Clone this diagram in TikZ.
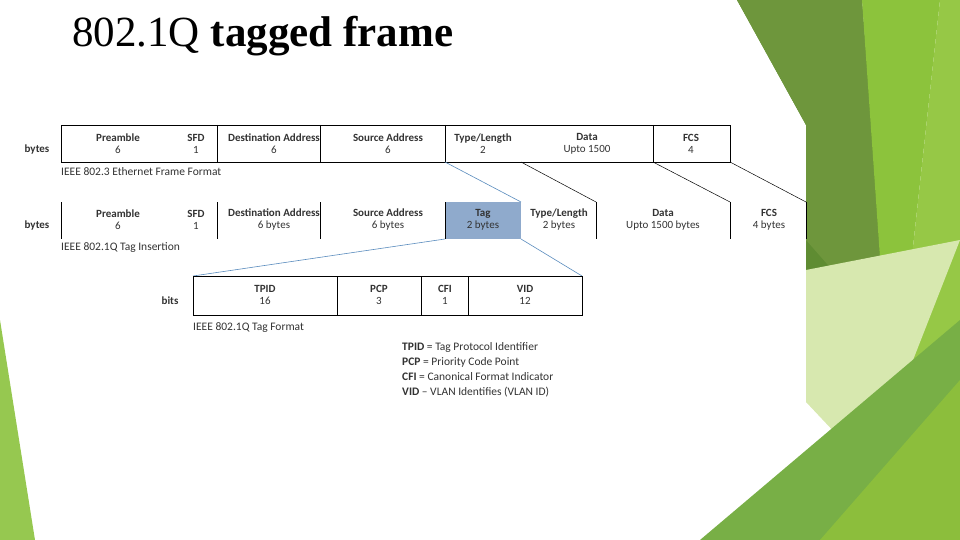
\documentclass[tikz,border=0pt]{standalone}
\usepackage{fontspec}
\setmainfont{Carlito}
\newfontfamily\titlefont{Liberation Serif}
\definecolor{lnblue}{RGB}{90,140,190}
\begin{document}
\begin{tikzpicture}[x=1pt,y=-1pt,
  lbl/.style={font=\fontsize{11}{12}\selectfont,text=black!80,align=center,inner sep=0},
  captxt/.style={font=\fontsize{11.5}{13}\selectfont,text=black!80,anchor=west,inner sep=0},
  frame/.style={draw=black,line width=0.7pt},
  bl/.style={draw=lnblue,line width=0.6pt}]
\useasboundingbox (0,0) rectangle (960,540);
% green decorations
\fill[color={rgb,255:red,95;green,140;blue,50}] (737,0)--(862,0)--(888,330)--(860,400)--(806,402)--(806,125);
\fill[color={rgb,255:red,110;green,150;blue,60}] (737,0)--(862,0)--(885,330)--(806,240)--(806,125);
\fill[color={rgb,255:red,140;green,195;blue,60}] (862,0)--(940,0)--(905,320)--(885,330);
\fill[color={rgb,255:red,150;green,200;blue,70}] (940,0)--(960,0)--(960,540)--(930,540)--(905,320);
\fill[color={rgb,255:red,215;green,232;blue,175}] (806,270)--(960,240)--(870,470)--(806,402);
\fill[color={rgb,255:red,120;green,175;blue,70}] (700,540)--(960,320)--(960,540);
\fill[color={rgb,255:red,140;green,190;blue,60}] (820,540)--(960,380)--(960,540);
\fill[color={rgb,255:red,150;green,200;blue,80}] (0,320)--(35,540)--(0,540);
\fill[white] (15,125) rectangle (806,402);
% title
\node[anchor=base west,inner sep=0,font=\titlefont\fontsize{43}{46}\selectfont] (title) at (72,47) {802.1Q \textbf{tagged frame}};
% row 1
\draw[frame] (61,125) rectangle (730,162);
\foreach \x in {217,320,445,653} \draw[frame] (\x,125)--(\x,162);
\node[lbl] (r1a) at (118,144) {\textbf{Preamble}\\6};
\node[lbl] (r1b) at (196,144) {\textbf{SFD}\\1};
\node[lbl] (r1c) at (274,144) {\textbf{Destination Address}\\6};
\node[lbl] (r1d) at (388,144) {\textbf{Source Address}\\6};
\node[lbl] (r1e) at (483,144) {\textbf{Type/Length}\\2};
\node[lbl] (r1f) at (587,144) {\textbf{Data}\\Upto 1500};
\node[lbl] (r1g) at (691,144) {\textbf{FCS}\\4};
\node[lbl] (b1) at (37,150) {\textbf{bytes}};
\node[captxt] (c1) at (61,172) {IEEE 802.3 Ethernet Frame Format};
% row 2
\fill[color={rgb,255:red,143;green,170;blue,204}] (445,202) rectangle (521,239);
\foreach \x in {61,217,320,445,596,730,806} \draw[frame] (\x,202)--(\x,239);
\node[lbl] (r2a) at (118,220) {\textbf{Preamble}\\6};
\node[lbl] (r2b) at (196,220) {\textbf{SFD}\\1};
\node[lbl] (r2c) at (274,220) {\textbf{Destination Address}\\6 bytes};
\node[lbl] (r2d) at (388,220) {\textbf{Source Address}\\6 bytes};
\node[lbl] (r2e) at (483,220) {\textbf{Tag}\\2 bytes};
\node[lbl] (r2f) at (559,220) {\textbf{Type/Length}\\2 bytes};
\node[lbl] (r2g) at (663,220) {\textbf{Data}\\Upto 1500 bytes};
\node[lbl] (r2h) at (769,220) {\textbf{FCS}\\4 bytes};
\node[lbl] (b2) at (37,226) {\textbf{bytes}};
\node[captxt] (c2) at (61,248) {IEEE 802.1Q Tag Insertion};
% expansion lines
\draw[bl] (445,162)--(521,202);
\draw[frame,line width=0.5pt] (521,162)--(596,202);
\draw[frame,line width=0.5pt] (653,162)--(730,202);
\draw[frame,line width=0.5pt] (730,162)--(806,202);
\draw[bl] (445,239)--(193,276);
\draw[bl] (521,239)--(582,276);
% row 3
\draw[frame] (193,276) rectangle (582,315);
\foreach \x in {337,421,468} \draw[frame] (\x,276)--(\x,315);
\node[lbl] (t1) at (265,295) {\textbf{TPID}\\16};
\node[lbl] (t2) at (379,295) {\textbf{PCP}\\3};
\node[lbl] (t3) at (445,295) {\textbf{CFI}\\1};
\node[lbl] (t4) at (525,295) {\textbf{VID}\\12};
\node[lbl] (b3) at (170,301) {\textbf{bits}};
\node[captxt] (c3) at (193,328) {IEEE 802.1Q Tag Format};
\node[captxt,anchor=north west,align=left,font=\fontsize{11.5}{15}\selectfont] (leg) at (402,342) {\textbf{TPID} = Tag Protocol Identifier\\\textbf{PCP} = Priority Code Point\\\textbf{CFI} = Canonical Format Indicator\\\textbf{VID} -- VLAN Identifies (VLAN ID)};
\end{tikzpicture}
\end{document}
